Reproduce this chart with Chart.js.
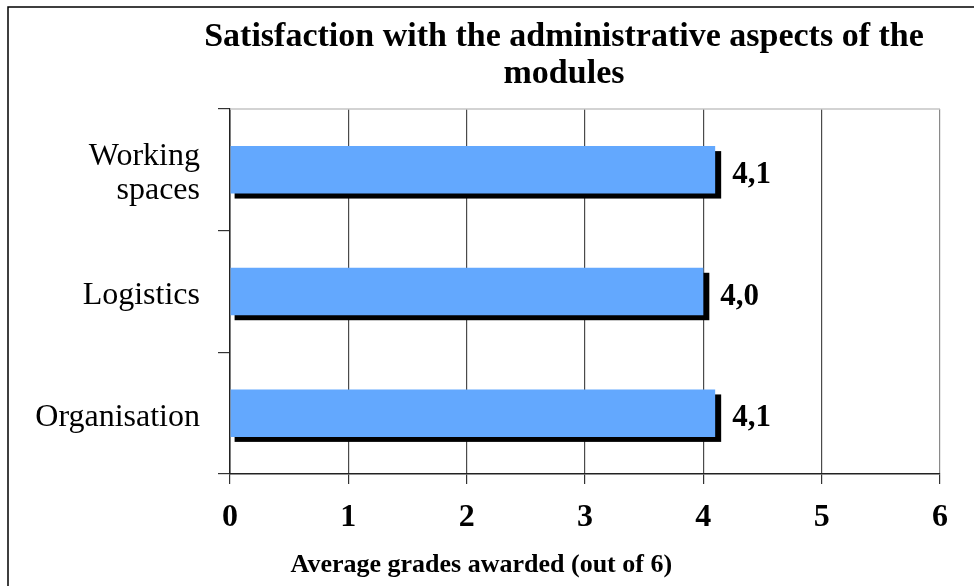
<!DOCTYPE html>
<html><head><meta charset="utf-8">
<script src="https://cdn.jsdelivr.net/npm/chart.js@4"></script>
<style>html,body{margin:0;padding:0;background:#fff}canvas{display:block}</style>
</head><body>
<canvas id="c" width="974" height="586"></canvas>
<script>
const categories = [["Working", "spaces"], "Logistics", "Organisation"];
const values = [4.1, 4.0, 4.1];
const valueLabels = ["4,1", "4,0", "4,1"];
const xMin = 0, xMax = 6, xStep = 1;
const titleLines = ["Satisfaction with the administrative aspects of the", "modules"];
const xTitle = "Average grades awarded (out of 6)";

const SERIF = "'Liberation Serif', 'DejaVu Serif', serif";

const frame = {
  id: 'frame',
  beforeDraw(chart) {
    const c = chart.ctx;
    c.save();
    c.fillStyle = '#fff';
    c.fillRect(0, 0, chart.width, chart.height);
    c.strokeStyle = '#000';
    c.lineWidth = 1.5;
    c.beginPath();
    c.moveTo(8, chart.height + 5);
    c.lineTo(8, 7);
    c.lineTo(chart.width + 5, 7);
    c.stroke();
    c.restore();
  },
  beforeDatasetsDraw(chart) {
    const c = chart.ctx;
    const a = chart.chartArea;
    c.save();
    c.strokeStyle = '#c4c4c4';
    c.lineWidth = 1.5;
    c.beginPath();
    c.moveTo(a.left, a.top);
    c.lineTo(a.right, a.top);
    c.stroke();
    // shadows
    const meta = chart.getDatasetMeta(0);
    c.fillStyle = '#000';
    meta.data.forEach(b => {
      const h = b.height;
      c.fillRect(b.base + 4, b.y - h / 2 + 5, (b.x - b.base) + 2, h);
    });
    c.restore();
  },
  afterDatasetsDraw(chart) {
    const c = chart.ctx;
    const meta = chart.getDatasetMeta(0);
    c.save();
    c.fillStyle = '#000';
    c.font = "bold 31px " + SERIF;
    c.textAlign = 'left';
    c.textBaseline = 'middle';
    meta.data.forEach((b, i) => {
      c.fillText(valueLabels[i], b.x + 17, b.y + 5);
    });
    c.restore();
  },
  afterDraw(chart) {
    const c = chart.ctx;
    const a = chart.chartArea;
    c.save();
    c.fillStyle = '#000';
    c.textAlign = 'center';
    c.textBaseline = 'alphabetic';
    c.font = "bold 34px " + SERIF;
    c.fillText(titleLines[0], 564, 46);
    c.fillText(titleLines[1], 564, 83);
    c.font = "bold 26px " + SERIF;
    c.fillText(xTitle, a.left + 0.354 * (a.right - a.left), 572);
    c.restore();
  }
};

new Chart(document.getElementById('c'), {
  type: 'bar',
  data: {
    labels: categories,
    datasets: [{
      data: values,
      backgroundColor: '#63A8FE',
      borderWidth: 0,
      barPercentage: 0.39,
      categoryPercentage: 1.0
    }]
  },
  options: {
    indexAxis: 'y',
    responsive: false,
    animation: false,
    devicePixelRatio: 1,
    layout: { padding: { top: 109, right: 34, left: 0, bottom: 0 } },
    plugins: { legend: { display: false }, title: { display: false }, tooltip: { enabled: false } },
    scales: {
      x: {
        min: xMin, max: xMax,
        ticks: { stepSize: xStep, color: '#000', font: { family: SERIF, size: 32, weight: 'bold' }, padding: 15 },
        grid: {
          color: (ctx) => (ctx.tick && ctx.tick.value === xMax) ? '#8a8a8a' : '#4a4a4a',
          lineWidth: 1.2,
          tickLength: 10,
          tickColor: '#333'
        },
        border: { color: '#222', width: 1.5 },
        afterFit: (s) => { s.height = 586 - 474; }
      },
      y: {
        ticks: { color: '#000', font: { family: SERIF, size: 32, lineHeight: 1.05 }, padding: 18, crossAlign: 'near', labelOffset: 4 },
        grid: { offset: true, drawOnChartArea: false, tickLength: 12, color: '#333', lineWidth: 1.2 },
        border: { color: '#222', width: 1.5 },
        afterFit: (s) => { s.width = 230; }
      }
    }
  },
  plugins: [frame]
});
</script>
</body></html>
